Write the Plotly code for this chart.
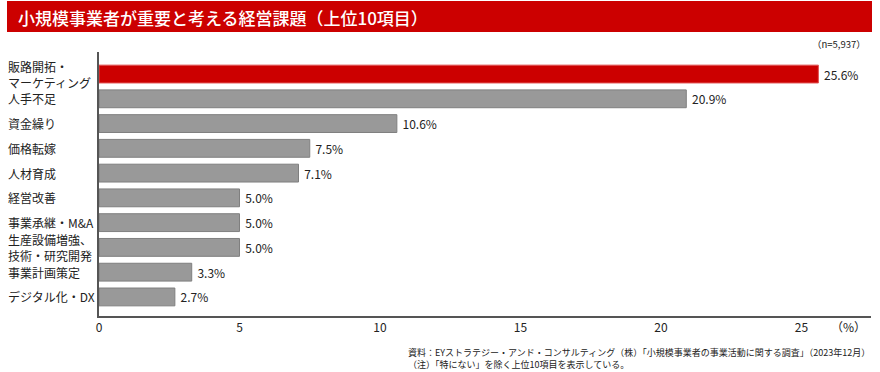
import plotly.graph_objects as go

categories = ["販路開拓・<br>マーケティング", "人手不足", "資金繰り", "価格転嫁", "人材育成",
              "経営改善", "事業承継・M&A", "生産設備増強、<br>技術・研究開発", "事業計画策定", "デジタル化・DX"]
values = [25.6, 20.9, 10.6, 7.5, 7.1, 5.0, 5.0, 5.0, 3.3, 2.7]
tick_vals = [0, 5, 10, 15, 20, 25]

title_text = "小規模事業者が重要と考える経営課題（上位10項目）"
n_text = "（n=5,937）"
note_text = ("資料：EYストラテジー・アンド・コンサルティング（株）「小規模事業者の事業活動に関する調査」（2023年12月）<br>"
             "（注）「特にない」を除く上位10項目を表示している。")

FONT = "Noto Sans CJK JP"
W, H = 880, 372
ML, MR, MT, MB = 99, 9, 52, 56
pw = W - ML - MR
ph = H - MT - MB

colors = ["#cc0000"] + ["#999999"] * (len(values) - 1)
line_colors = ["#e05050"] + ["#7f7f7f"] * (len(values) - 1)
ids = list(range(len(categories)))

fig = go.Figure(go.Bar(
    x=values, y=ids, orientation="h",
    marker=dict(color=colors, line=dict(color=line_colors, width=1)),
    width=0.72,
    text=[f"\u00a0{v:.1f}%" for v in values], textposition="outside",
    textfont=dict(family=FONT, size=12, color="#222222"),
    cliponaxis=False,
    hoverinfo="skip",
))

def px_x(p):
    return (p - ML) / pw

def px_y(p):
    return (H - MB - p) / ph

annotations = []
for i, c in enumerate(categories):
    annotations.append(dict(x=px_x(6), xref="paper", y=i, yref="y", text=c, showarrow=False,
                            xanchor="left", yanchor="middle", align="left",
                            font=dict(family=FONT, size=12, color="#222222")))
annotations.append(dict(x=px_x(16), xref="paper", y=px_y(17), yref="paper", text=title_text,
                        showarrow=False, xanchor="left", yanchor="middle",
                        font=dict(family=FONT, size=17, color="white", weight=500)))
annotations.append(dict(x=px_x(868), xref="paper", y=px_y(44), yref="paper", text=n_text,
                        showarrow=False, xanchor="right", yanchor="middle",
                        font=dict(family=FONT, size=9.5, color="#222222")))
annotations.append(dict(x=px_x(848), xref="paper", y=px_y(326), yref="paper", text="（%）",
                        showarrow=False, xanchor="center", yanchor="middle",
                        font=dict(family=FONT, size=12, color="#222222")))
annotations.append(dict(x=px_x(872), xref="paper", y=px_y(358), yref="paper", text=note_text,
                        showarrow=False, xanchor="right", yanchor="middle", align="left",
                        font=dict(family=FONT, size=9, color="#222222")))

fig.update_layout(
    width=W, height=H,
    margin=dict(l=ML, r=MR, t=MT, b=MB, pad=0),
    paper_bgcolor="white", plot_bgcolor="white",
    showlegend=False,
    font=dict(family=FONT, size=12, color="#222222"),
    xaxis=dict(range=[0, pw / 28.1], tickvals=tick_vals, ticktext=[str(t) for t in tick_vals],
               showgrid=False, zeroline=False, showline=True, linecolor="#555555", linewidth=1.5,
               ticks="", tickfont=dict(family=FONT, size=12, color="#222222")),
    yaxis=dict(range=[9.77, -0.89], showticklabels=False, showgrid=False, zeroline=False,
               showline=True, linecolor="#555555", linewidth=1.5, ticks=""),
    annotations=annotations,
    shapes=[dict(type="rect", xref="paper", yref="paper", x0=px_x(7), x1=px_x(872),
                 y0=px_y(32), y1=px_y(1), fillcolor="#cc0000", line=dict(width=0), layer="above")],
    bargap=0.28,
    hovermode=False,
)

fig.write_html("out.html", config={"displayModeBar": False},
               post_script="document.body.style.margin='0';document.body.style.padding='0';")
